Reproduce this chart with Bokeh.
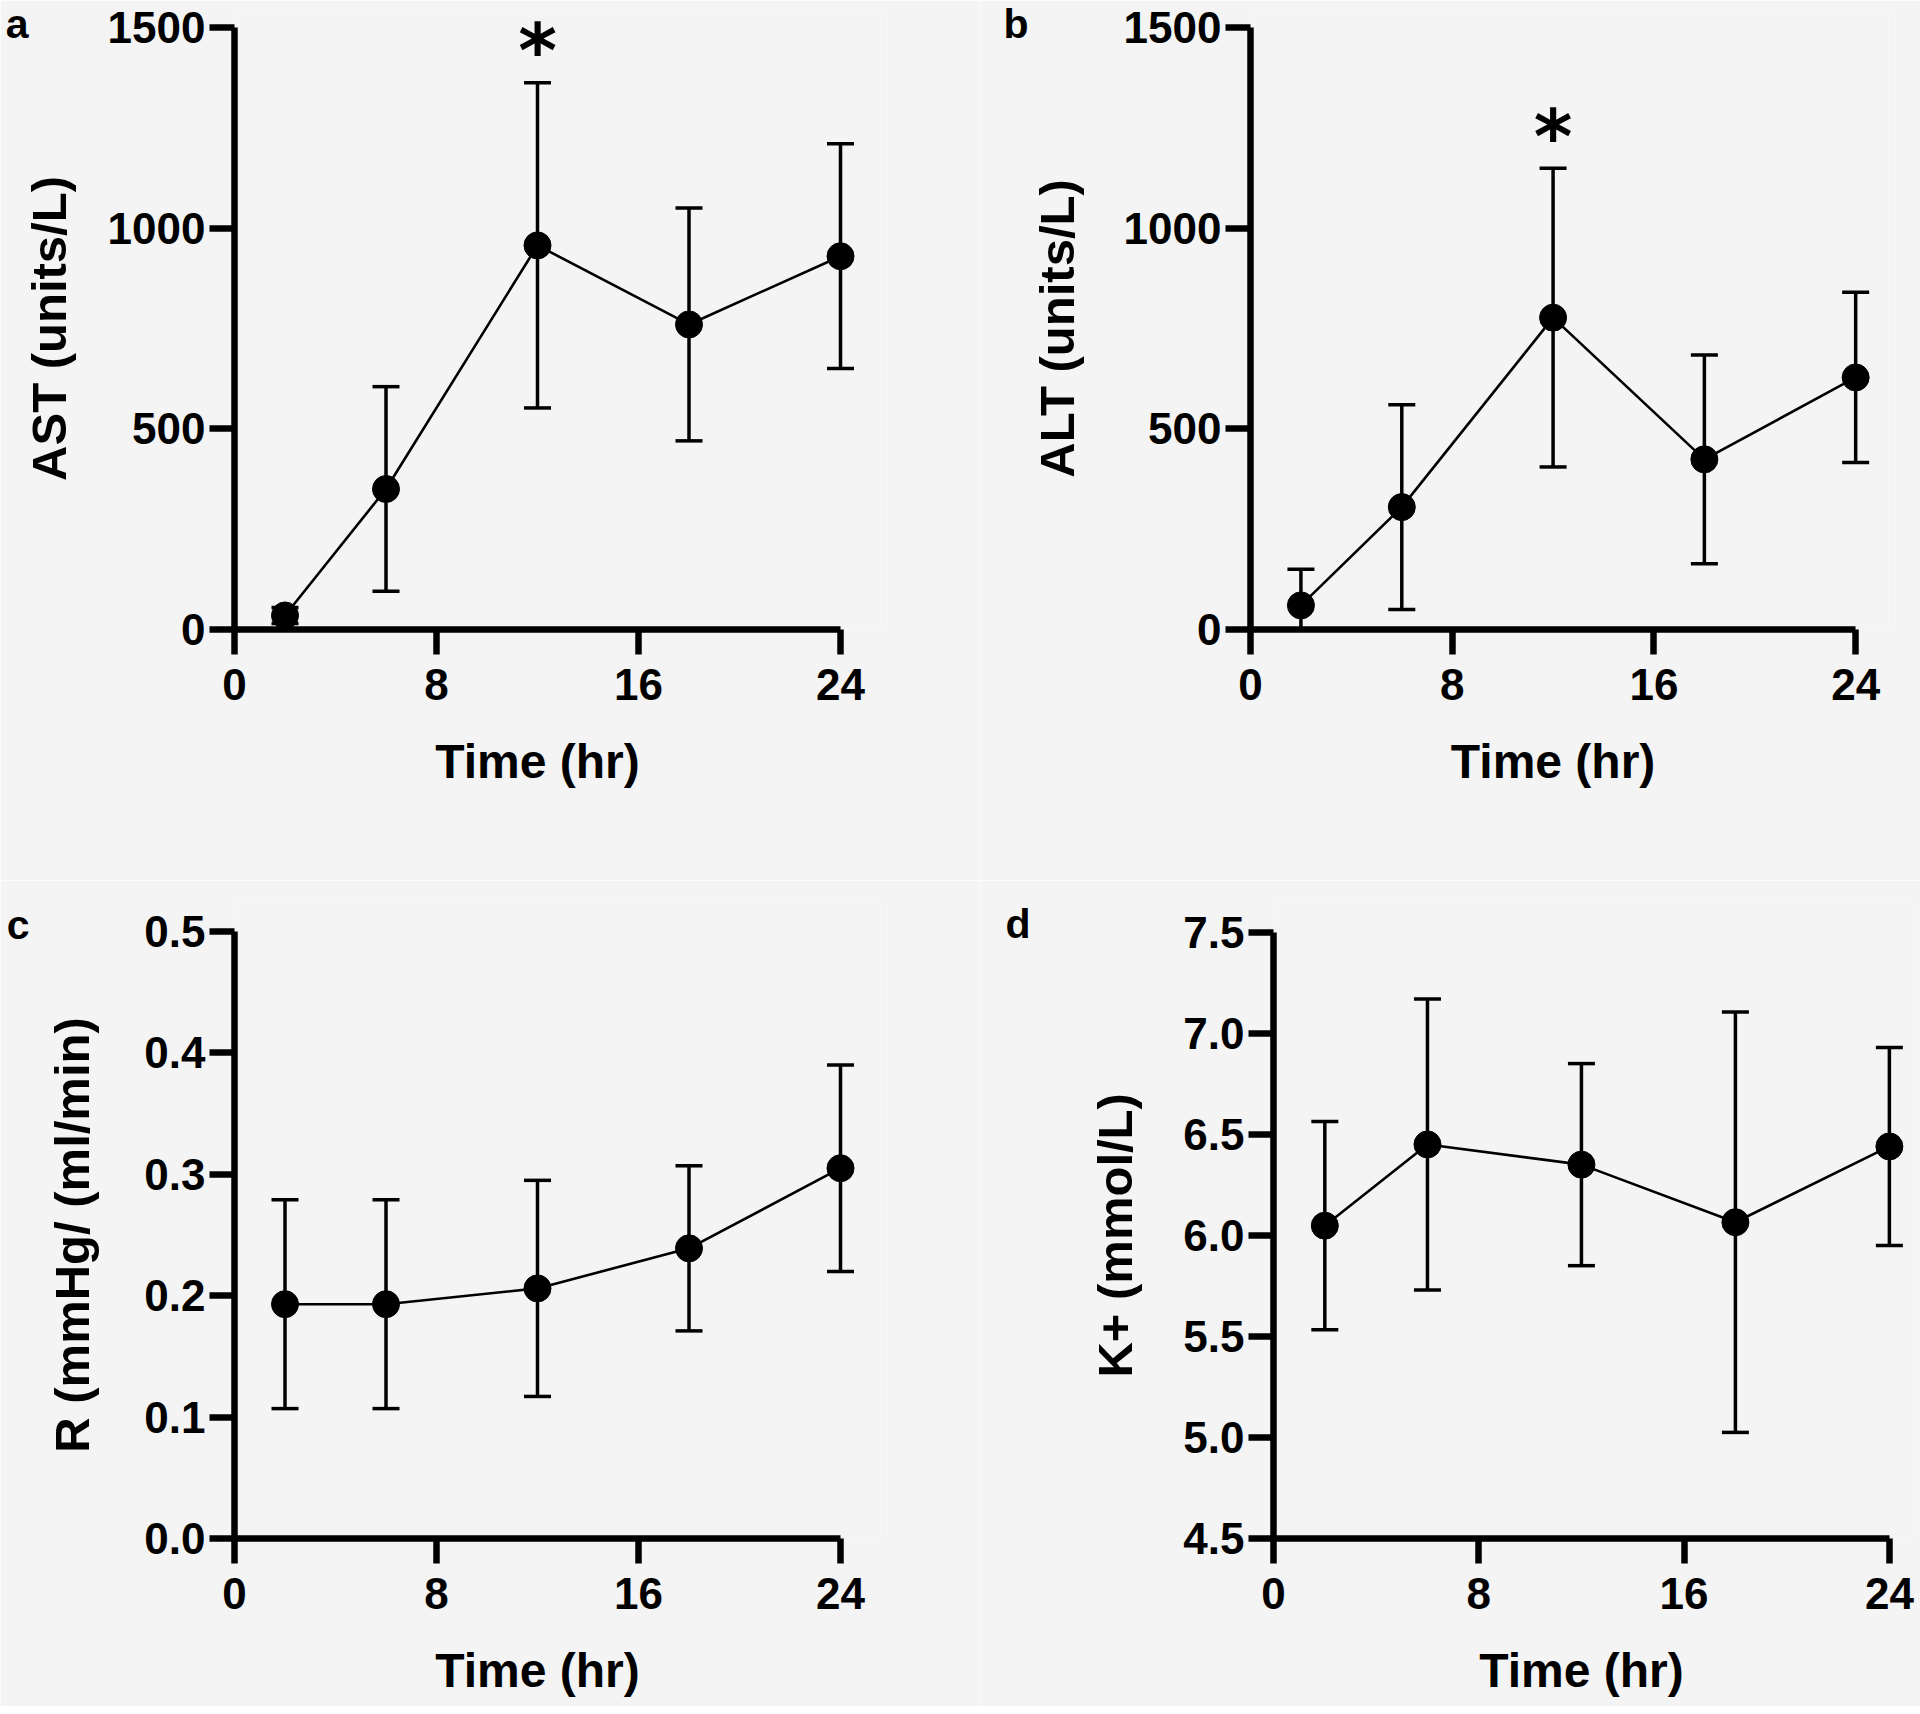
from bokeh.plotting import figure
from bokeh.layouts import column, row
from bokeh.models import (Range1d, FixedTicker, PrintfTickFormatter, LinearAxis,
                          CustomJSTickFormatter, ColumnDataSource)
from bokeh.core.properties import value
from bokeh.embed import file_html
from bokeh.resources import INLINE

# ---- data ----
time_hr = [2, 6, 12, 18, 24]
x_ticks = [0, 8, 16, 24]

ast_mean = [35, 350, 957, 760, 930]
ast_sd = [20, 255, 405, 290, 280]
ast_ticks = [0, 500, 1000, 1500]

alt_mean = [60, 305, 777, 424, 628]
alt_sd = [90, 255, 372, 260, 212]
alt_ticks = [0, 500, 1000, 1500]

r_mean = [0.193, 0.193, 0.206, 0.239, 0.305]
r_sd = [0.086, 0.086, 0.089, 0.068, 0.085]
r_ticks = [0.0, 0.1, 0.2, 0.3, 0.4, 0.5]

k_mean = [6.048, 6.45, 6.35, 6.065, 6.44]
k_sd = [0.515, 0.72, 0.50, 1.04, 0.49]
k_ticks = [4.5, 5.0, 5.5, 6.0, 6.5, 7.0, 7.5]

x_label = "Time (hr)"
sig_time = 12          # significance marker position (x)
ast_star_y = 1475
alt_star_y = 1263

BG = "#f4f4f4"
FONT = "Liberation Sans"
AXW = 6.5


def text_axis(tick, text, standoff, size, orientation="horizontal"):
    """An invisible axis whose single tick label carries a piece of text."""
    return LinearAxis(ticker=FixedTicker(ticks=[tick]),
                      formatter=CustomJSTickFormatter(code="return %r" % text),
                      axis_line_color=None, major_tick_line_color=None,
                      major_tick_in=0, major_tick_out=0, minor_tick_in=0, minor_tick_out=0,
                      major_label_standoff=standoff, major_label_orientation=orientation,
                      major_label_text_font=FONT, major_label_text_font_style="bold",
                      major_label_text_font_size=size, major_label_text_color="black")


def panel(mean, sd, ticks, yfmt, ylabel, letter, width, height, mb, xr, yr,
          ystandoff, letter_y, letter_standoff, star_y=None):
    p = figure(width=width, height=height, output_backend="svg", toolbar_location=None,
               x_range=Range1d(*xr), y_range=Range1d(*yr),
               min_border_left=mb[0], min_border_right=mb[1],
               min_border_top=mb[2], min_border_bottom=mb[3])
    p.background_fill_color = BG
    p.border_fill_color = BG
    p.outline_line_color = None
    p.grid.visible = False

    for ax in (p.xaxis[0], p.yaxis[0]):
        ax.axis_line_width = AXW
        ax.axis_line_color = "black"
        ax.major_tick_line_width = AXW
        ax.major_tick_line_color = "black"
        ax.major_tick_in = 0
        ax.major_tick_out = 25
        ax.minor_tick_in = 0
        ax.minor_tick_out = 0
        ax.major_label_text_font = FONT
        ax.major_label_text_font_style = "bold"
        ax.major_label_text_font_size = "44px"
        ax.major_label_text_color = "black"

    p.xaxis[0].ticker = FixedTicker(ticks=x_ticks)
    p.xaxis[0].bounds = (x_ticks[0], x_ticks[-1])
    p.xaxis[0].major_label_standoff = 14
    p.xaxis[0].formatter = PrintfTickFormatter(format="%d")

    p.yaxis[0].ticker = FixedTicker(ticks=ticks)
    p.yaxis[0].bounds = (ticks[0], ticks[-1])
    p.yaxis[0].major_label_standoff = 4
    p.yaxis[0].formatter = PrintfTickFormatter(format=yfmt)

    # axis titles centred on the drawn axis extent (not on the whole frame)
    p.add_layout(text_axis((x_ticks[0] + x_ticks[-1]) / 2, x_label, 32, "48px"), "below")
    p.add_layout(text_axis((ticks[0] + ticks[-1]) / 2, ylabel, ystandoff, "49px", "parallel"), "left")
    # panel letter
    p.add_layout(text_axis(letter_y, letter, letter_standoff, "41px"), "left")

    lo = [m - s for m, s in zip(mean, sd)]
    hi = [m + s for m, s in zip(mean, sd)]
    src = ColumnDataSource(dict(x=time_hr, y=mean, lo=lo, hi=hi))
    p.segment(x0="x", y0="lo", x1="x", y1="hi", source=src, line_width=3.5, line_color="black")
    p.scatter(x="x", y="lo", source=src, marker="dash", size=27, line_width=3.5, line_color="black")
    p.scatter(x="x", y="hi", source=src, marker="dash", size=27, line_width=3.5, line_color="black")
    p.line(x="x", y="y", source=src, line_width=2.6, line_color="black")
    p.scatter(x="x", y="y", source=src, marker="circle", size=27, fill_color="black", line_color="black")

    if star_y is not None:
        p.text(x=[sig_time], y=[star_y], text=["*"], text_font=value("DejaVu Sans"),
               text_font_style="bold", text_font_size="74px", text_align="center",
               text_baseline="middle", y_offset=14, text_color="black")
    return p


pa = panel(ast_mean, ast_sd, ast_ticks, "%d", "AST (units/L)", "a",
           980, 880, (234, 100, 8, 249), (0, 25.584), (0, 1547.2), 28, 1512, -9, ast_star_y)
pb = panel(alt_mean, alt_sd, alt_ticks, "%d", "ALT (units/L)", "b",
           940, 880, (270, 25, 8, 251), (0, 25.58), (0, 1547.3), 36, 1508, -1, alt_star_y)
pc = panel(r_mean, r_sd, r_ticks, "%.1f", "R (mmHg/ (ml/min)", "c",
           980, 826, (234, 100, 20, 168), (0, 25.584), (0, 0.5255), 42, 0.5055, 13)
pd_ = panel(k_mean, k_sd, k_ticks, "%.1f", "K+ (mmol/L)", "d",
            940, 826, (293, 7, 20, 161), (0, 24.94), (4.5, 7.657), 38, 7.54, 55)

layout = column(row(pa, pb), row(pc, pd_))

open("out.html", "w").write(file_html(layout, INLINE))
